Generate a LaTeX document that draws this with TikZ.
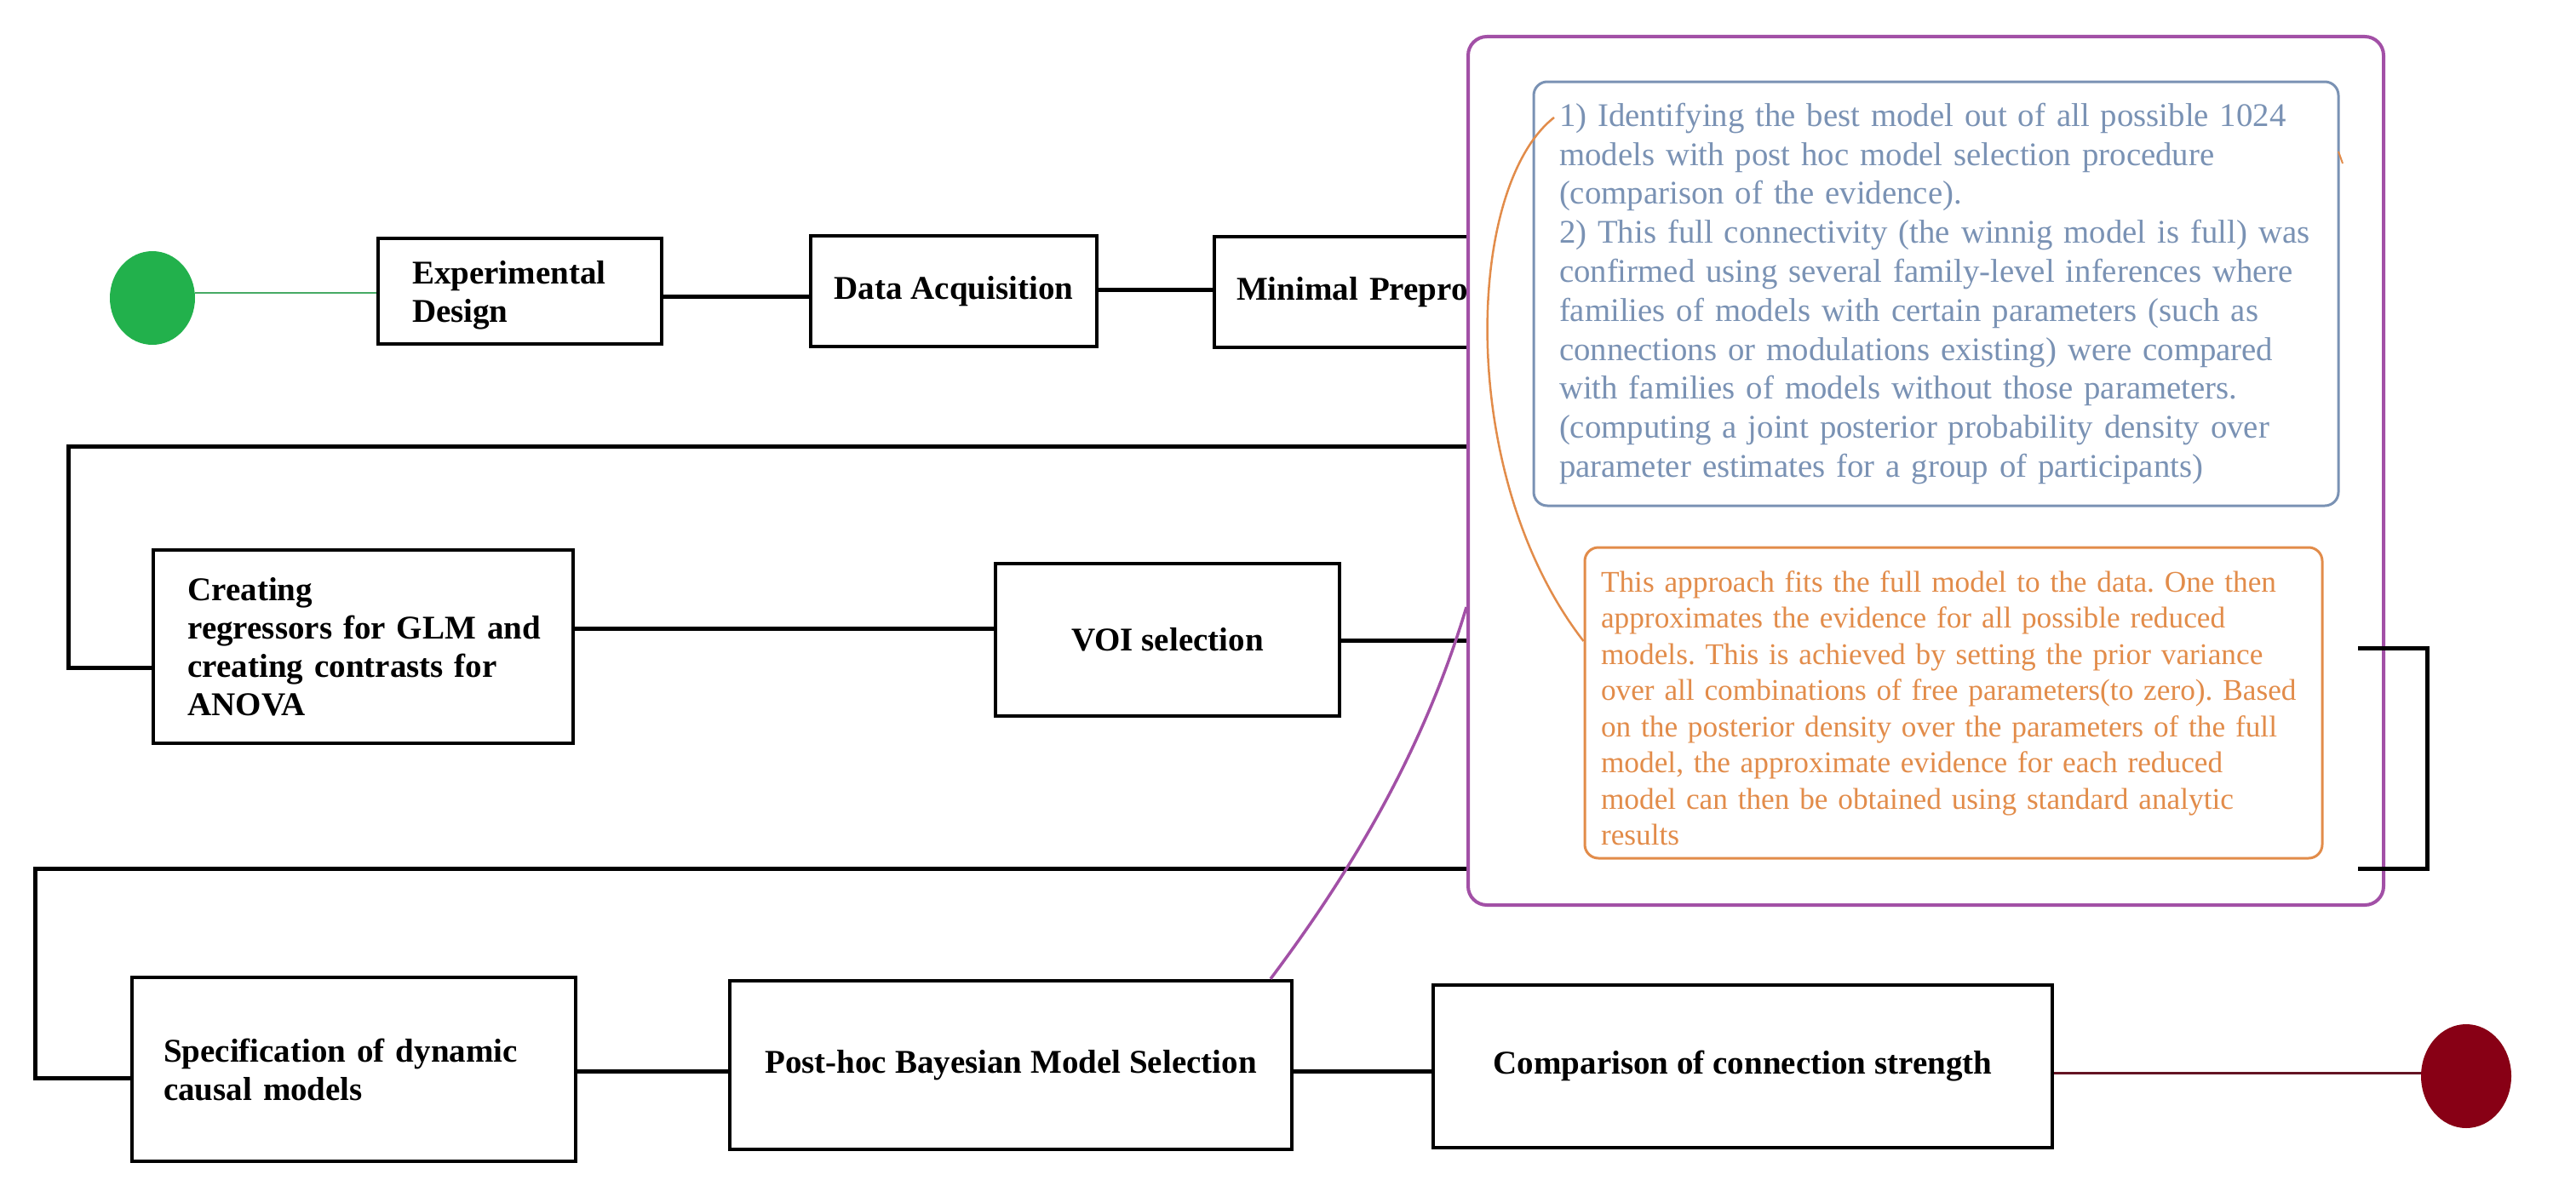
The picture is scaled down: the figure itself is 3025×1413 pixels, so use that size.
\documentclass[tikz,border=0pt]{standalone}
\usepackage{fontspec}
\setmainfont{Liberation Serif}
\usetikzlibrary{shapes.geometric}
\definecolor{pur}{RGB}{162,80,166}
\definecolor{bluegray}{RGB}{122,146,180}
\definecolor{org}{RGB}{226,140,74}
\definecolor{gcirc}{RGB}{34,177,76}
\definecolor{gline}{RGB}{70,170,100}
\definecolor{rcirc}{RGB}{136,0,21}
\definecolor{rline}{RGB}{100,20,35}
\frenchspacing
\begin{document}
\begin{tikzpicture}[x=1pt,y=-1pt,
  box/.style={draw=black, line width=4.5pt, inner sep=0pt, align=center,
    font=\fontsize{39}{45}\selectfont\bfseries},
  conn/.style={draw=black, line width=5pt},
  terminal/.style={ellipse, inner sep=0pt, draw=none},
  notebox/.style={line width=3pt, inner sep=0pt, align=left, rounded corners=16pt}]
\useasboundingbox (0,0) rectangle (3025,1413);
% level coordinates
\coordinate (yg) at (0,344);
\coordinate (y1) at (0,348);
\coordinate (y2) at (0,340);
\coordinate (y3) at (0,784);
\coordinate (y4) at (0,738);
\coordinate (y5) at (0,752);
\coordinate (y6) at (0,1266);
\coordinate (y7) at (0,1258);
\coordinate (y8) at (0,1260);
\coordinate (h1) at (1800,752);
\coordinate (h2) at (1800,1020);
\coordinate (h3) at (1800,524);
\coordinate (l2) at (80,524);
\coordinate (l3) at (41,1020);
% terminals
\node[terminal, fill=gcirc, minimum width=100pt, minimum height=110pt] (start) at (179,350) {};
\node[terminal, fill=rcirc, minimum width=106pt, minimum height=122pt] (stop) at (2896,1264) {};
% boxes
\node[box, minimum width=333pt, minimum height=124pt, text width=253pt, align=left] (ed) at (610.5,342) {\rule{0pt}{37pt}\mbox{Experimental}\\\mbox{Design}};
\node[box, minimum width=336pt, minimum height=130pt] (da) at (1120,342) {Data Acquisition};
\node[box, minimum width=524pt, minimum height=130pt, text width=472pt, align=left] (mp) at (1688,343) {\mbox{Minimal Preprocessing}};
\node[box, minimum width=493pt, minimum height=227pt, text width=412pt, align=left] (cr) at (426.5,759.5) {\mbox{Creating}\\\mbox{regressors for GLM and}\\\mbox{creating contrasts for}\\\mbox{ANOVA}};
\node[box, minimum width=404pt, minimum height=179pt] (vo) at (1371,751.5) {VOI selection};
\node[box, minimum width=521pt, minimum height=216pt, text width=447pt, align=left] (sp) at (415.5,1256) {\mbox{Specification of dynamic}\\\mbox{causal models}};
\node[box, minimum width=660pt, minimum height=198pt] (bm) at (1187,1251) {Post-hoc Bayesian Model Selection};
\node[box, minimum width=727pt, minimum height=191pt] (cc) at (2046.5,1252.5) {Comparison of connection strength};
% connectors
\draw[gline, line width=2.5pt] (start.east |- yg) -- (ed.west |- yg);
\draw[conn] (ed.east |- y1) -- (da.west |- y1);
\draw[conn] (da.east |- y2) -- (mp.west |- y2);
\draw[conn] (h3) -- (l2) |- (cr.west |- y3);
\draw[conn] (cr.east |- y4) -- (vo.west |- y4);
\draw[conn] (vo.east |- y5) -- (h1);
\draw[conn] (h2) -- (l3) |- (sp.west |- y6);
\draw[conn] (sp.east |- y7) -- (bm.west |- y7);
\draw[conn] (bm.east |- y7) -- (cc.west |- y7);
\draw[rline, line width=3pt] (cc.east |- y8) -- (stop.west |- y8);
% purple container
\node[draw=pur, line width=4pt, fill=white, rounded corners=22pt, minimum width=1075pt, minimum height=1020pt, inner sep=0pt] (pbox) at (2261.5,553) {};
\node[notebox, draw=bluegray, text=bluegray, minimum width=945pt, minimum height=498pt, text width=885pt, font=\fontsize{38.8}{45.8}\selectfont] (note1) at (2273.5,345) {\mbox{1) Identifying the best model out of all possible 1024}\\\mbox{models with post hoc model selection procedure}\\\mbox{(comparison of the evidence).}\\\mbox{2) This full connectivity (the winnig model is full) was}\\\mbox{confirmed using several family-level inferences where}\\\mbox{families of models with certain parameters (such as}\\\mbox{connections or modulations existing) were compared}\\\mbox{with families of models without those parameters.}\\\mbox{(computing a joint posterior probability density over}\\\mbox{parameter estimates for a group of participants)}};
\node[notebox, draw=org, text=org, minimum width=866pt, minimum height=365pt, text width=828pt, font=\fontsize{35.3}{42.5}\selectfont] (note2) at (2294,825.5) {\rule{0pt}{37pt}\mbox{This approach fits the full model to the data. One then}\\\mbox{approximates the evidence for all possible reduced}\\\mbox{models. This is achieved by setting the prior variance}\\\mbox{over all combinations of free parameters(to zero). Based}\\\mbox{on the posterior density over the parameters of the full}\\\mbox{model, the approximate evidence for each reduced}\\\mbox{model can then be obtained using standard analytic}\\\mbox{results}};
% orange link between notes
\coordinate (oc1) at (1825,138);
\coordinate (oc2) at (0,753);
\draw[org, line width=2.5pt] (oc1) .. controls (1720,220) and (1710,560) .. (note2.west |- oc2);
\draw[org, line width=2pt] (2746,178) -- (2751,192);
% purple link from model selection to container
\coordinate (pcx) at (1492,0);
\coordinate (pce) at (0,713);
\draw[pur, line width=3.5pt] (bm.north -| pcx) .. controls (1603,1002) and (1677,863) .. (pbox.west |- pce);
% right bracket
\coordinate (bt) at (2769,761);
\coordinate (bx1) at (2850,761);
\coordinate (bx2) at (2850,1020);
\coordinate (bb) at (2769,1020);
\draw[conn] (bt) -- (bx1) -- (bx2) -- (bb);
\end{tikzpicture}
\end{document}
